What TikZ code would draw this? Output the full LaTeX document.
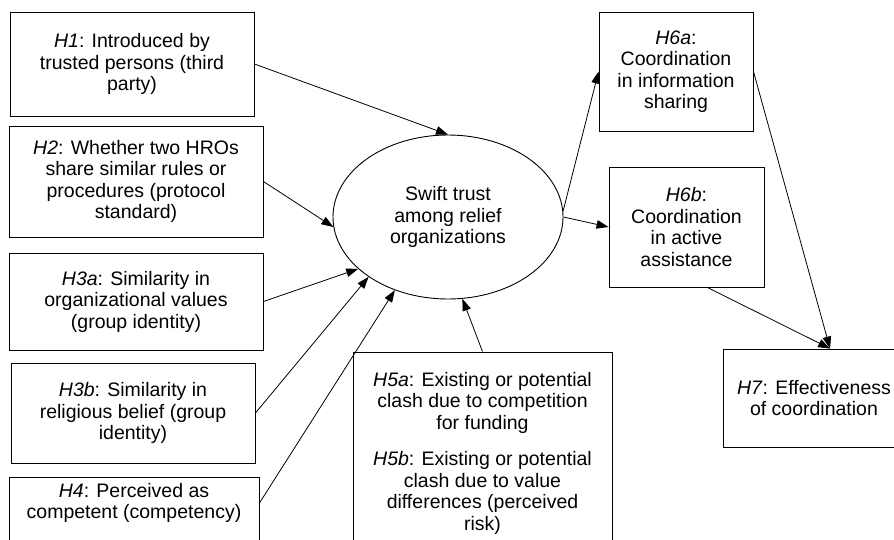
\documentclass[tikz,border=0pt]{standalone}
\usepackage{fontspec}
\setmainfont{Liberation Sans}
\usetikzlibrary{arrows.meta,shapes.geometric,positioning}

\begin{document}
\begin{tikzpicture}[
    x=1pt, y=-1pt,
    hyp/.style={draw, line width=0.9pt, align=center, inner sep=2pt, font=\fontsize{19.5}{21.5}\selectfont},
    hyptext/.style={align=center, inner sep=2pt, font=\fontsize{19.5}{21.5}\selectfont},
    trust/.style={draw, ellipse, line width=0.9pt, minimum width=230pt, minimum height=164pt, inner sep=0pt, align=center, font=\fontsize{19.5}{21.5}\selectfont},
    arr/.style={-{Triangle[length=12pt, width=8.5pt]}, line width=0.8pt}
]
\useasboundingbox (0,0) rectangle (894,539);
\clip (0,0) rectangle (894,539);

% antecedents
\node[hyp, minimum width=244pt, minimum height=104pt] (h1) at (132,64) {\textit{H1}: Introduced by\\trusted persons (third\\party)};
\node[hyp, minimum width=254pt, minimum height=111pt] (h2) at (136,181.5) {\textit{H2}: Whether two HROs\\share similar rules or\\procedures (protocol\\standard)};
\node[hyp, minimum width=254pt, minimum height=97pt] (h3a) at (136,301.5) {\textit{H3a}: Similarity in\\organizational values\\(group identity)};
\node[hyp, minimum width=244pt, minimum height=100pt] (h3b) at (133,413) {\textit{H3b}: Similarity in\\religious belief (group\\identity)};
\node[hyp, minimum width=250pt, minimum height=100pt, anchor=north] (h4) at (134,477) {};
\node[hyptext, below=4pt of h4.north] (h4t) {\textit{H4}: Perceived as\\competent (competency)};
\node[hyp, minimum width=259pt, minimum height=202pt] (h5) at (482.5,453) {\textit{H5a}: Existing or potential\\clash due to competition\\for funding\\[15pt]\textit{H5b}: Existing or potential\\clash due to value\\differences (perceived\\risk)};

% centre
\node[trust] (trust) at (448,217) {Swift trust\\among relief\\organizations};

% outcomes
\node[hyp, minimum width=154pt, minimum height=119pt] (h6a) at (676,71.5) {\textit{H6a}:\\Coordination\\in information\\sharing};
\node[hyp, minimum width=155pt, minimum height=120pt] (h6b) at (686.5,227) {\textit{H6b}:\\Coordination\\in active\\assistance};
\node[hyp, minimum width=182pt, minimum height=98pt] (h7) at (814,398) {\textit{H7}: Effectiveness\\of coordination};

\draw[arr] (h1.east) -- (trust.north);
\draw[arr] (h2.east) -- (trust.185);
\draw[arr] (h3a.east) -- (trust.210);
\draw[arr] (h3b.east) -- (trust.217);
\draw[arr] (h4t -| h4.east) -- (trust.234);
\draw[arr] (h5.north) -- (trust.280);
\draw[arr] (trust.3) -- (h6a.west);
\draw[arr] (trust.east) -- (h6b.west);
\draw[arr] (h6a.east) -- (h7.72);
\draw[arr] (h6b.289) -- (h7.72);
\end{tikzpicture}
\end{document}
